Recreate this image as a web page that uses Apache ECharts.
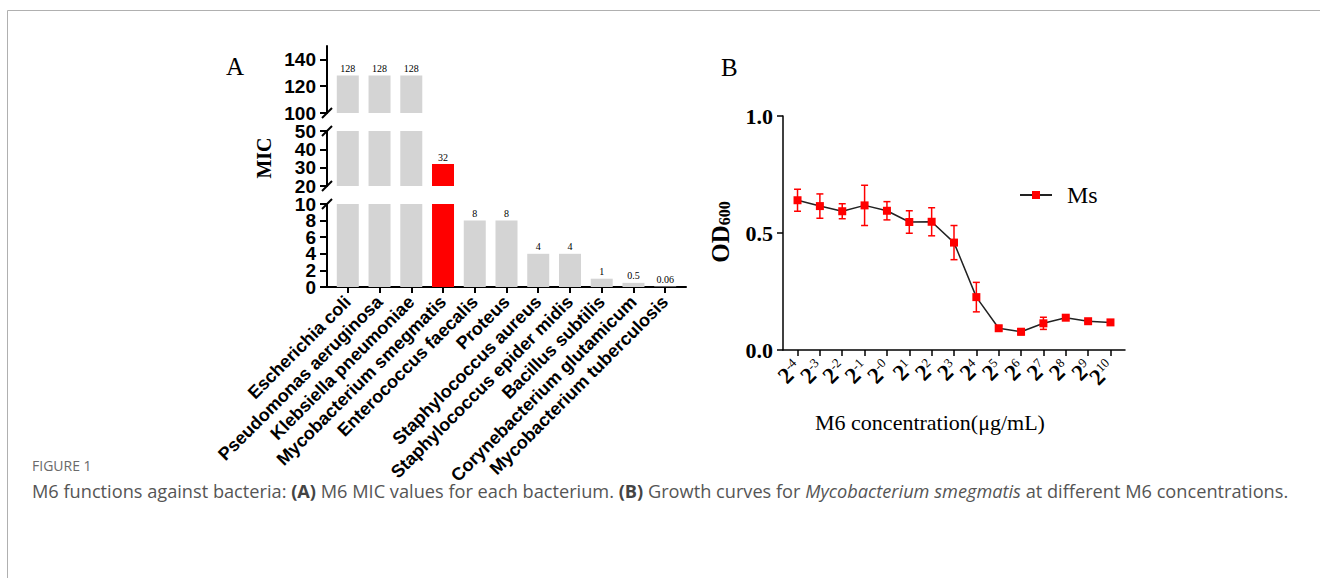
<!DOCTYPE html>
<html>
<head>
<meta charset="utf-8">
<script src="https://cdn.jsdelivr.net/npm/echarts@6/dist/echarts.min.js"></script>
<style>
html,body{margin:0;padding:0;background:#fff;}
#chart{width:1320px;height:578px;}
</style>
</head>
<body>
<div id="chart"></div>
<script>
// ---------- Panel A data ----------
const categories = ['Escherichia coli','Pseudomonas aeruginosa','Klebsiella pneumoniae','Mycobacterium smegmatis','Enterococcus faecalis','Proteus','Staphylococcus aureus','Staphylococcus epider midis','Bacillus subtilis','Corynebacterium glutamicum','Mycobacterium tuberculosis'];
const micValues = [128,128,128,32,8,8,4,4,1,0.5,0.06];
const highlighted = 'Mycobacterium smegmatis';
const micTicksTop = [100,120,140];
const micTicksMid = [20,30,40,50];
const micTicksLow = [0,2,4,6,8,10];
const segTop = [100,150];
const segMid = [20,50];
const segLow = [0,10];

// ---------- Panel B data ----------
const exponents = ['-4','-3','-2','-1','-0','1','2','3','4','5','6','7','8','9','10'];
const odMean = [0.640,0.615,0.593,0.618,0.595,0.547,0.548,0.459,0.226,0.093,0.078,0.114,0.138,0.123,0.118];
const odSD   = [0.047,0.052,0.032,0.086,0.039,0.048,0.060,0.073,0.063,0.010,0.013,0.026,0.007,0.006,0.005];
const odTicks = [0,0.5,1.0];
const seriesName = 'Ms';

// ---------- layout ----------
const SERIF = 'Liberation Serif, Times New Roman, serif';
const SANS = 'Liberation Sans, Arial, sans-serif';
const CAP = 'Open Sans, Lato, sans-serif';
const aLeft = 327, aWidth = 359;
const gridsA = [
  {left: aLeft, width: aWidth, top: 46, height: 67},
  {left: aLeft, width: aWidth, top: 131, height: 55},
  {left: aLeft, width: aWidth, top: 204, height: 83}
];
const gridB = {left: 783, width: 342, top: 116, height: 234};

const catIdx = categories.map((_, i) => i);
const expIdx = exponents.map((_, i) => i);
const evenOf = arr => arr.filter((_, i) => i % 2 === 0);
const oddOf = arr => arr.filter((_, i) => i % 2 === 1);

function axisLineStyle(w){ return {show: true, onZero: false, lineStyle: {color: '#000', width: w}}; }

const segs = [segTop, segMid, segLow];
const segTicks = [micTicksTop, micTicksMid, micTicksLow];

const grids = gridsA.map(g => Object.assign({outerBoundsMode: 'none', containLabel: false}, g));
grids.push(Object.assign({outerBoundsMode: 'none', containLabel: false}, gridB));

const xAxes = [], yAxes = [], series = [];
const yLabelStyle = {fontFamily: SANS, fontWeight: 'bold', fontSize: 19, color: '#000'};
segs.forEach((seg, k) => {
  const isLow = k === 2;
  xAxes.push({
    type: 'value', gridIndex: k, min: -0.655, max: categories.length - 1 + 0.655,
    show: isLow, splitLine: {show: false},
    axisLine: axisLineStyle(2),
    axisTick: {show: true, customValues: catIdx, length: 6, lineStyle: {color: '#000', width: 2}},
    axisLabel: {show: true, customValues: catIdx, rotate: 45, margin: 12, interval: 0,
      showMinLabel: true, showMaxLabel: true, hideOverlap: false,
      formatter: v => categories[Math.round(v)] || '',
      fontFamily: SANS, fontWeight: 'bold', fontSize: 18, color: '#000'}
  });
  // main y axis (line, ticks, every other label) + companion axis (remaining labels)
  const yMain = yAxes.length;
  [evenOf(segTicks[k]), oddOf(segTicks[k])].forEach((vals, j) => {
    yAxes.push({
      type: 'value', gridIndex: k, position: 'left', offset: 0, min: seg[0], max: seg[1],
      splitLine: {show: false},
      axisLine: j === 0 ? axisLineStyle(2) : {show: false, onZero: false},
      axisTick: {show: j === 0, customValues: segTicks[k], length: 7, lineStyle: {color: '#000', width: 2}},
      axisLabel: Object.assign({show: true, customValues: vals, margin: 11,
        showMinLabel: true, showMaxLabel: true, hideOverlap: false}, yLabelStyle)
    });
  });
  series.push({
    type: 'bar', xAxisIndex: k, yAxisIndex: yMain, barWidth: 22, clip: true,
    data: micValues.map((v, i) => {
      if (v < seg[0]) return {value: [i, '-']};
      const endsHere = v <= seg[1];
      return {
        value: [i, v],
        itemStyle: {color: categories[i] === highlighted ? '#ff0000' : '#d4d4d4'},
        label: {show: endsHere}
      };
    }),
    label: {show: false, position: 'top', distance: 2, fontFamily: SERIF, fontSize: 10, color: '#000',
      formatter: p => String(micValues[p.dataIndex])},
    silent: true, animation: false
  });
});

// Panel B axes: ticks on one axis, labels split over two axes (even / odd) so none is dropped
const expLabelRich = {
  b: {fontFamily: SERIF, fontWeight: 'bold', fontSize: 23, color: '#000', verticalAlign: 'bottom'},
  s: {fontFamily: SERIF, fontSize: 13, color: '#000', verticalAlign: 'top'}
};
const bX = xAxes.length;
[evenOf(expIdx), oddOf(expIdx)].forEach((vals, j) => {
  xAxes.push({
    type: 'value', gridIndex: 3, position: 'bottom', offset: 0,
    min: -0.65, max: exponents.length - 1 + 0.65,
    splitLine: {show: false},
    axisLine: j === 0 ? axisLineStyle(1.5) : {show: false, onZero: false},
    axisTick: {show: j === 0, customValues: expIdx, length: 6, lineStyle: {color: '#000', width: 1.5}},
    axisLabel: {show: true, customValues: vals, rotate: 45, margin: 14, interval: 0,
      showMinLabel: true, showMaxLabel: true, hideOverlap: false,
      formatter: v => '{b|2}{s|' + exponents[Math.round(v)] + '}',
      rich: expLabelRich}
  });
});
const bY = yAxes.length;
yAxes.push({
  type: 'value', gridIndex: 3, position: 'left', min: 0, max: 1, interval: 0.5,
  splitLine: {show: false},
  axisLine: axisLineStyle(1.5),
  axisTick: {show: true, length: 6, lineStyle: {color: '#000', width: 1.5}},
  axisLabel: {show: true, margin: 10, formatter: v => v.toFixed(1),
    fontFamily: SERIF, fontWeight: 'bold', fontSize: 22, color: '#000'}
});

series.push({
  type: 'custom', name: seriesName + ' error', xAxisIndex: bX, yAxisIndex: bY, z: 2,
  data: odMean.map((m, i) => [i, m, odSD[i]]),
  renderItem: (params, api) => {
    const x = api.value(0), m = api.value(1), s = api.value(2);
    const p1 = api.coord([x, m + s]), p2 = api.coord([x, m - s]);
    const h = 3.5, st = {stroke: '#ff0000', lineWidth: 1.5};
    return {type: 'group', children: [
      {type: 'line', shape: {x1: p1[0], y1: p1[1], x2: p2[0], y2: p2[1]}, style: st},
      {type: 'line', shape: {x1: p1[0]-h, y1: p1[1], x2: p1[0]+h, y2: p1[1]}, style: st},
      {type: 'line', shape: {x1: p2[0]-h, y1: p2[1], x2: p2[0]+h, y2: p2[1]}, style: st}
    ]};
  },
  silent: true, animation: false
});
series.push({
  type: 'line', name: seriesName, xAxisIndex: bX, yAxisIndex: bY, z: 3,
  data: odMean.map((m, i) => [i, m]),
  symbol: 'rect', symbolSize: 8,
  lineStyle: {color: '#222', width: 1.5},
  itemStyle: {color: '#ff0000'},
  silent: true, animation: false
});

// Break marks on panel A axis (decoration)
const breakYs = [gridsA[0].top + gridsA[0].height, gridsA[1].top, gridsA[1].top + gridsA[1].height, gridsA[2].top];
const graphics = breakYs.map(y => ({
  type: 'line', shape: {x1: aLeft - 5, y1: y + 5, x2: aLeft + 5, y2: y - 5},
  style: {stroke: '#000', lineWidth: 2}, silent: true
}));

graphics.push(
  {type: 'line', shape: {x1: 7.5, y1: 10.5, x2: 1320, y2: 10.5}, style: {stroke: '#b0b0b0', lineWidth: 1}, silent: true},
  {type: 'line', shape: {x1: 7.5, y1: 10.5, x2: 7.5, y2: 578}, style: {stroke: '#b0b0b0', lineWidth: 1}, silent: true},
  {type: 'text', x: 226, y: 54, style: {text: 'A', font: '25px ' + SERIF, fill: '#000'}, silent: true},
  {type: 'text', x: 721, y: 55, style: {text: 'B', font: '25px ' + SERIF, fill: '#000'}, silent: true},
  {type: 'text', x: 264, y: 158, rotation: Math.PI / 2,
   style: {text: 'MIC', font: 'bold 20px ' + SERIF, fill: '#000', align: 'center', verticalAlign: 'middle'}, silent: true},
  {type: 'text', x: 720, y: 232, rotation: Math.PI / 2,
   style: {text: '{b|OD}{s|600}', align: 'center', verticalAlign: 'middle',
     rich: {b: {fontFamily: SERIF, fontWeight: 'bold', fontSize: 25, fill: '#000', verticalAlign: 'top'},
            s: {fontFamily: SERIF, fontWeight: 'bold', fontSize: 16, fill: '#000', verticalAlign: 'bottom'}}}, silent: true},
  {type: 'text', x: 930, y: 422,
   style: {text: 'M6 concentration(μg/mL)', font: '22px ' + SERIF, fill: '#000', align: 'center', verticalAlign: 'middle'}, silent: true},
  {type: 'text', x: 32, y: 465,
   style: {text: 'FIGURE 1', font: '14px ' + CAP, fill: '#6a6a6a', verticalAlign: 'middle'}, silent: true},
  {type: 'text', x: 32, y: 491,
   style: {text: '{n|M6 functions against bacteria: }{b|(A)}{n| M6 MIC values for each bacterium. }{b|(B)}{n| Growth curves for }{i|Mycobacterium smegmatis}{n| at different M6 concentrations.}',
     verticalAlign: 'middle',
     rich: {
       n: {fontFamily: CAP, fontSize: 18.2, fill: '#555'},
       b: {fontFamily: CAP, fontSize: 18.2, fontWeight: 'bold', fill: '#444'},
       i: {fontFamily: CAP, fontSize: 18.2, fontStyle: 'italic', fill: '#555'}
     }}, silent: true}
);

const chart = echarts.init(document.getElementById('chart'), null, {renderer: 'svg'});
chart.setOption({
  animation: false,
  backgroundColor: '#fff',
  grid: grids,
  xAxis: xAxes,
  yAxis: yAxes,
  legend: {
    data: [seriesName], left: 1014, top: 178, itemWidth: 32, itemHeight: 10,
    textStyle: {fontFamily: SERIF, fontSize: 24, color: '#000', padding: [0, 0, 0, 10]},
    selectedMode: false
  },
  series: series,
  graphic: graphics
});
</script>
</body>
</html>
